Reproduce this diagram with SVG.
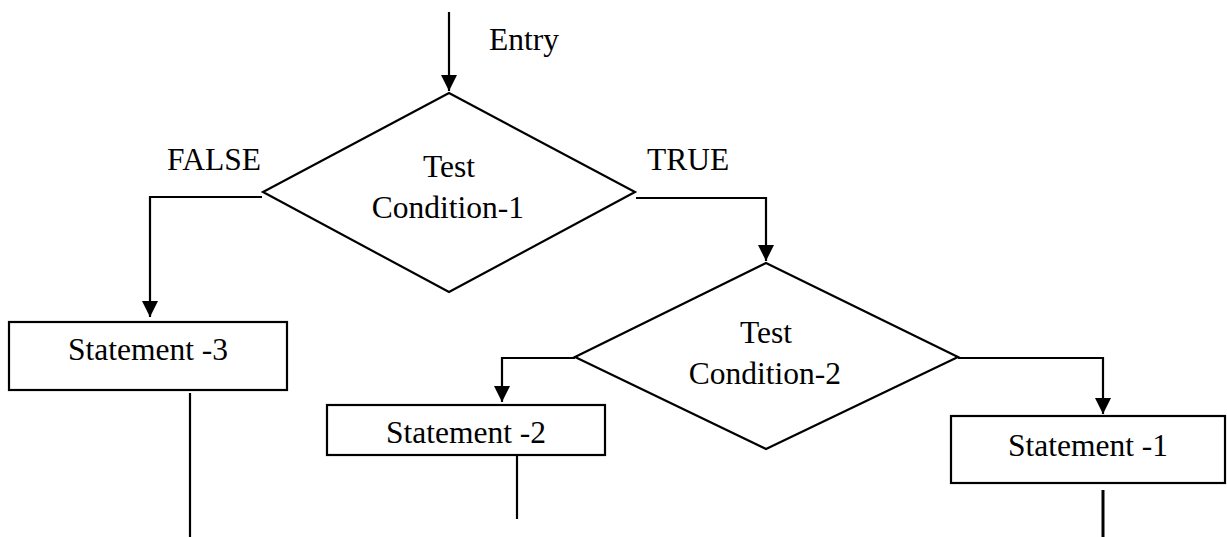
<svg xmlns="http://www.w3.org/2000/svg" width="1227" height="537" viewBox="0 0 1227 537">
  <style>
    .shape { fill: #ffffff; stroke: #000000; stroke-width: 2.2; }
    .line { fill: none; stroke: #000000; stroke-width: 2.2; }
    .label { font-size: 31.5px; fill: #000000; }
    .mid { text-anchor: middle; }
  </style>
  <defs>
    <marker id="arrow" viewBox="0 0 16 16" refX="16" refY="8" markerWidth="16" markerHeight="16" markerUnits="userSpaceOnUse" orient="auto">
      <path d="M0,0 L16,8 L0,16 Z" fill="#000000"/>
    </marker>
  </defs>
  <rect width="1227" height="537" fill="#ffffff"/>

  <!-- connectors -->
  <g id="connectors">
    <path class="line" d="M449,12 V91" marker-end="url(#arrow)"/>
    <path class="line" d="M262,197 H150 V317" marker-end="url(#arrow)"/>
    <path class="line" d="M636,198 H766 V261" marker-end="url(#arrow)"/>
    <path class="line" d="M575,358 H502 V402" marker-end="url(#arrow)"/>
    <path class="line" d="M958,358 H1103 V414" marker-end="url(#arrow)"/>
    <path class="line" d="M190,393 V537"/>
    <path class="line" d="M517,456 V519"/>
    <path class="line" d="M1103,490 V537" style="stroke-width:3"/>
  </g>

  <g font-family="'Liberation Serif', 'DejaVu Serif', serif">
    <!-- edge labels -->
    <g id="edge-labels">
      <text class="label" x="489" y="50">Entry</text>
      <text class="label" x="167" y="170">FALSE</text>
      <text class="label" x="647" y="170">TRUE</text>
    </g>

    <g id="test-condition-1">
      <polygon class="shape" points="449,93 635,192 449,292 263,192"/>
      <text class="label mid" x="449" y="177">Test</text>
      <text class="label mid" x="448" y="218">Condition-1</text>
    </g>

    <g id="test-condition-2">
      <polygon class="shape" points="766,263 958,357 766,449 575,357"/>
      <text class="label mid" x="766" y="343">Test</text>
      <text class="label mid" x="765" y="384">Condition-2</text>
    </g>

    <g id="statement-3">
      <rect class="shape" x="9" y="322" width="278" height="68"/>
      <text class="label mid" x="148" y="360">Statement -3</text>
    </g>

    <g id="statement-2">
      <rect class="shape" x="327" y="405" width="278" height="50"/>
      <text class="label mid" x="466" y="443">Statement -2</text>
    </g>

    <g id="statement-1">
      <rect class="shape" x="951" y="416" width="274" height="67"/>
      <text class="label mid" x="1088" y="456">Statement -1</text>
    </g>
  </g>
</svg>
